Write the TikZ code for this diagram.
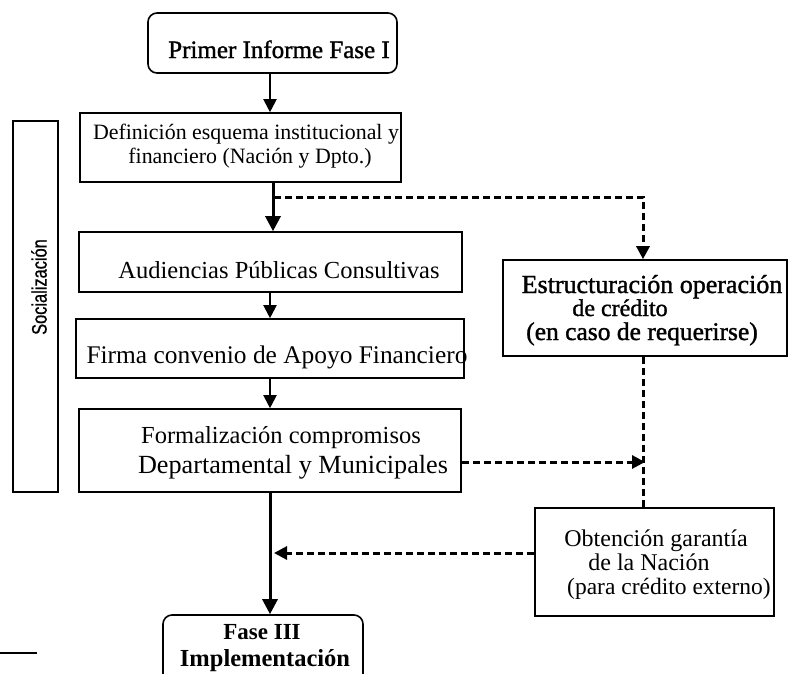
\documentclass[tikz,border=0pt]{standalone}
\usepackage{fontspec}
\setmainfont{Liberation Serif}
\setsansfont{Liberation Sans}
\newfontfamily\heavyfont[FakeBold=1.3]{Liberation Serif}
\newfontfamily\socfont[FakeStretch=0.78,FakeBold=0.8]{Liberation Sans}
\usetikzlibrary{arrows.meta}
\begin{document}
\begin{tikzpicture}[x=1pt,y=-1pt,
  box/.style={draw, line width=1.6pt, inner sep=0pt},
  rbox/.style={box, rounded corners=9pt},
  lbl/.style={anchor=base, inner sep=0pt},
  thinarrow/.style={line width=2pt, -{Triangle[length=13pt,width=13pt]}},
  thickarrow/.style={line width=3pt, -{Triangle[length=15pt,width=15pt]}},
  dashline/.style={line width=3pt, dash pattern=on 7pt off 4pt},
  dasharrow/.style={dashline, -{Triangle[length=13pt,width=13pt]}}]
\clip (0,0) rectangle (788,673);
\fill[white] (0,0) rectangle (788,673);

% boxes
\node[rbox, minimum width=249pt, minimum height=60pt] (b0) at (272.5,43) {};
\node[box, minimum width=321pt, minimum height=69pt] (b1) at (240.5,147.5) {};
\node[box, minimum width=383pt, minimum height=60pt] (b2) at (270.5,262) {};
\node[box, minimum width=388pt, minimum height=59pt] (b3) at (270,348.5) {};
\node[box, minimum width=382pt, minimum height=83pt] (b4) at (270,450.5) {};
\node[box, minimum width=284pt, minimum height=96pt] (b5) at (645,308) {};
\node[box, minimum width=239pt, minimum height=108pt] (b6) at (654.5,562) {};
\node[rbox, minimum width=200pt, minimum height=85pt] (b7) at (263,657.5) {};
\node[box, line width=2.2pt, minimum width=45pt, minimum height=371pt] (soc) at (35.5,306.5) {};

% texts
\node[lbl, font=\heavyfont\fontsize{25}{30}\selectfont] (t0) at (279,58) {Primer Informe Fase I};
\node[lbl, font=\fontsize{21.9}{26}\selectfont] (t1a) at (246,139) {Definición esquema institucional y};
\node[lbl, font=\fontsize{21.9}{26}\selectfont] (t1b) at (250,163) {financiero (Nación y Dpto.)};
\node[lbl, font=\fontsize{24.5}{29}\selectfont] (t2) at (279,278) {Audiencias Públicas Consultivas};
\node[lbl, font=\fontsize{25.4}{30}\selectfont] (t3) at (277,363) {Firma convenio de Apoyo Financiero};
\node[lbl, font=\fontsize{24.5}{29}\selectfont] (t4a) at (281,443) {Formalización compromisos};
\node[lbl, font=\fontsize{26.2}{30}\selectfont] (t4b) at (293,473) {Departamental y Municipales};
\node[lbl, font=\heavyfont\fontsize{26}{30}\selectfont] (t5a) at (652,293) {Estructuración operación};
\node[lbl, font=\heavyfont\fontsize{24}{30}\selectfont] (t5b) at (620,316) {de crédito};
\node[lbl, font=\heavyfont\fontsize{25.5}{30}\selectfont] (t5c) at (642,340) {(en caso de requerirse)};
\node[lbl, font=\fontsize{24}{29}\selectfont] (t6a) at (656,546) {Obtención garantía};
\node[lbl, font=\fontsize{24}{29}\selectfont] (t6b) at (649,570) {de la Nación};
\node[lbl, font=\fontsize{23.5}{29}\selectfont] (t6c) at (669,594) {(para crédito externo)};
\node[lbl, font=\bfseries\fontsize{23}{28}\selectfont] (t7a) at (262,639) {Fase III};
\node[lbl, font=\bfseries\fontsize{24.5}{28}\selectfont] (t7b) at (265,666) {Implementación};
\node[rotate=90, inner sep=0pt, font=\socfont\fontsize{21}{24}\selectfont] (st) at (39,287) {Socialización};

% reference coordinates
\coordinate (xa) at (270,0);
\coordinate (xb) at (273,0);
\coordinate (xc) at (643,0);
\coordinate (j1) at (274,197);
\coordinate (m1) at (645,462);
\coordinate (m2) at (274,553);
\coordinate (l1) at (0,653);
\coordinate (l2) at (37,653);

% connectors
\draw[thinarrow] (b0.south -| xa) -- (b1.north -| xa);
\draw[thickarrow] (b1.south -| xb) -- (b2.north -| xb);
\draw[thinarrow] (b2.south -| xa) -- (b3.north -| xa);
\draw[thinarrow] (b3.south -| xa) -- (b4.north -| xa);
\draw[thickarrow] (b4.south -| xa) -- (b7.north -| xa);
\draw[dasharrow] (j1) -| (b5.north -| xc);
\draw[dashline] (b5.south -| xc) -- (b6.north -| xc);
\draw[dasharrow] (b4.east |- m1) -- (m1);
\draw[dasharrow] (b6.west |- m2) -- (m2);
\draw[line width=2pt] (l1) -- (l2);
\end{tikzpicture}
\end{document}
